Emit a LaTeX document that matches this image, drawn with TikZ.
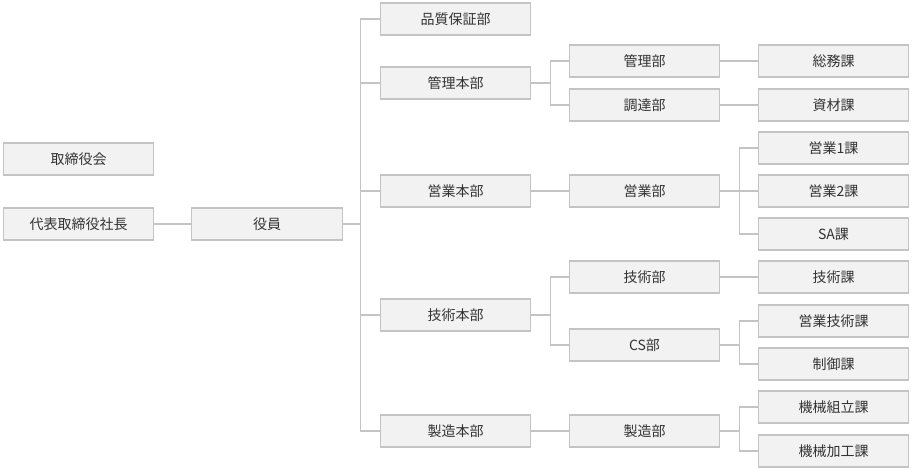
\documentclass[tikz,border=0pt]{standalone}
\usepackage{fontspec}
\setmainfont{Noto Sans CJK JP}
\usepackage{tikz}
\usetikzlibrary{positioning,calc}
\definecolor{ink}     {HTML}{333333}
\definecolor{rule}    {HTML}{C4C4C4}
\definecolor{paper}   {HTML}{F2F2F2}

\begin{document}
\begin{tikzpicture}[x=0.75pt,y=-0.75pt,
  unit/.style={draw=rule,fill=paper,text=ink,line width=0.8pt,inner sep=0pt,
               minimum width=113pt,minimum height=24pt,font=\fontsize{10.5}{12}\selectfont},
  link/.style={draw=rule,line width=0.8pt}]
\useasboundingbox (0,0) rectangle (912,470);
% left side
\node[unit] (b0-0) at (78.5,159) {取締役会};
\node[unit] (b0-1) at (78.5,224) {代表取締役社長};
\node[unit] (b1-0) at (267,224) {役員};
% headquarters
\node[unit] (b2-0) at (455.5,19) {品質保証部};
\node[unit] (b2-1) at (455.5,83) {管理本部};
\node[unit] (b2-2) at (455.5,191) {営業本部};
\node[unit] (b2-3) at (455.5,315) {技術本部};
\node[unit] (b2-4) at (455.5,431) {製造本部};
% departments
\node[unit] (b3-0) at (644.5,61) {管理部};
\node[unit] (b3-1) at (644.5,105) {調達部};
\node[unit] (b3-2) at (644.5,191) {営業部};
\node[unit] (b3-3) at (644.5,277) {技術部};
\node[unit] (b3-4) at (644.5,345) {CS部};
\node[unit] (b3-5) at (644.5,431) {製造部};
% sections
\node[unit] (b4-0) at (833.5,61) {総務課};
\node[unit] (b4-1) at (833.5,105) {資材課};
\node[unit] (b4-2) at (833.5,148) {営業1課};
\node[unit] (b4-3) at (833.5,191) {営業2課};
\node[unit] (b4-4) at (833.5,234) {SA課};
\node[unit] (b4-5) at (833.5,277) {技術課};
\node[unit] (b4-6) at (833.5,321) {営業技術課};
\node[unit] (b4-7) at (833.5,364) {制御課};
\node[unit] (b4-8) at (833.5,407) {機械組立課};
\node[unit] (b4-9) at (833.5,451) {機械加工課};
% connectors
\draw[link] (b0-1) -- (b1-0);
\foreach \j in {0,...,4}
  \draw[link] (b1-0.east) -- ++(18,0) |- (b2-\j.west);
\draw[link] (b2-1.east) -- ++(19,0) |- (b3-0.west);
\draw[link] (b2-1.east) -- ++(19,0) |- (b3-1.west);
\draw[link] (b2-2) -- (b3-2);
\draw[link] (b2-3.east) -- ++(19,0) |- (b3-3.west);
\draw[link] (b2-3.east) -- ++(19,0) |- (b3-4.west);
\draw[link] (b2-4) -- (b3-5);
\draw[link] (b3-0) -- (b4-0);
\draw[link] (b3-1) -- (b4-1);
\foreach \j in {2,3,4}
  \draw[link] (b3-2.east) -- ++(19,0) |- (b4-\j.west);
\draw[link] (b3-3) -- (b4-5);
\draw[link] (b3-4.east) -- ++(19,0) |- (b4-6.west);
\draw[link] (b3-4.east) -- ++(19,0) |- (b4-7.west);
\draw[link] (b3-5.east) -- ++(19,0) |- (b4-8.west);
\draw[link] (b3-5.east) -- ++(19,0) |- (b4-9.west);
\end{tikzpicture}
\end{document}
